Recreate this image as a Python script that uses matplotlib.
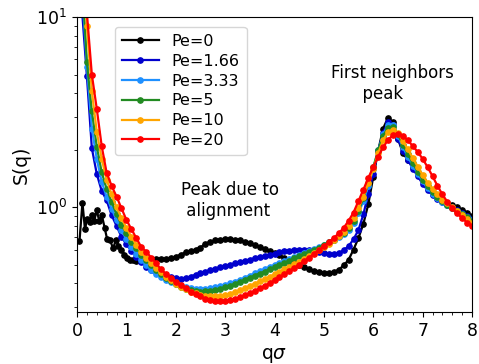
import numpy as np
import matplotlib
matplotlib.use("Agg")
import matplotlib.pyplot as plt
from matplotlib.ticker import MultipleLocator, LogLocator, NullFormatter

# q grid shared by the active curves
q = np.round(np.arange(1, 81) * 0.1, 2)

# Pe=0 has a noisy low-q part read on a finer grid
q_pe0 = [0.05, 0.11, 0.16, 0.21, 0.26, 0.30, 0.35, 0.40, 0.45, 0.50, 0.56,
         0.61, 0.67, 0.73, 0.79, 0.84, 0.90, 0.96, 1.02, 1.07, 1.13] + list(q[11:])
s_pe0 = [0.665, 1.06, 0.77, 0.87, 0.84, 0.91, 0.85, 0.97, 0.845, 0.915, 0.78,
         0.68, 0.67, 0.61, 0.675, 0.63, 0.595, 0.565, 0.545, 0.53, 0.53,
         0.525, 0.53, 0.535, 0.535, 0.535, 0.535, 0.535, 0.54, 0.55,
         0.565, 0.58, 0.59, 0.60, 0.615, 0.645, 0.66, 0.67, 0.675, 0.68,
         0.68, 0.675, 0.67, 0.66, 0.65, 0.635, 0.62, 0.605, 0.59, 0.578,
         0.56, 0.54, 0.525, 0.51, 0.495, 0.485, 0.472, 0.465, 0.458, 0.452,
         0.452, 0.457, 0.47, 0.495, 0.53, 0.60, 0.69, 0.82, 1.04, 1.45,
         1.99, 2.6, 2.97, 2.8, 2.3, 1.93, 1.78, 1.64, 1.5, 1.38,
         1.26, 1.18, 1.13, 1.09, 1.06, 1.03, 1.0, 0.97, 0.94, 0.9]

s_pe166 = [11.0, 4.9, 2.05, 1.5, 1.22, 1.09, 0.91, 0.80, 0.70, 0.64,
           0.59, 0.55, 0.515, 0.487, 0.47, 0.455, 0.446, 0.437, 0.43, 0.423,
           0.418, 0.425, 0.433, 0.442, 0.45, 0.46, 0.468, 0.477, 0.485, 0.493,
           0.50, 0.508, 0.516, 0.524, 0.532, 0.54, 0.548, 0.556, 0.565, 0.572,
           0.58, 0.587, 0.592, 0.597, 0.60, 0.60, 0.598, 0.593, 0.585, 0.574,
           0.568, 0.568, 0.575, 0.595, 0.625, 0.68, 0.76, 0.92, 1.18, 1.5,
           1.98, 2.47, 2.82, 2.72, 2.3, 1.98, 1.78, 1.6, 1.46, 1.33,
           1.23, 1.16, 1.11, 1.07, 1.03, 1.0, 0.97, 0.935, 0.905, 0.87]

s_pe333 = [14.0, 5.5, 2.6, 1.8, 1.36, 1.14, 0.98, 0.86, 0.76, 0.68,
           0.62, 0.57, 0.53, 0.497, 0.47, 0.447, 0.43, 0.415, 0.404, 0.395,
           0.388, 0.381, 0.376, 0.373, 0.372, 0.373, 0.375, 0.379, 0.384, 0.391,
           0.399, 0.407, 0.416, 0.427, 0.438, 0.45, 0.462, 0.474, 0.486, 0.498,
           0.51, 0.522, 0.535, 0.548, 0.56, 0.574, 0.588, 0.603, 0.618, 0.636,
           0.655, 0.675, 0.698, 0.725, 0.765, 0.83, 0.93, 1.08, 1.3, 1.6,
           2.0, 2.42, 2.72, 2.7, 2.38, 2.07, 1.85, 1.66, 1.5, 1.37,
           1.26, 1.18, 1.12, 1.07, 1.03, 0.99, 0.96, 0.925, 0.89, 0.86]

s_pe5 = [16.0, 5.8, 3.2, 2.09, 1.53, 1.25, 1.07, 0.92, 0.81, 0.73,
         0.66, 0.61, 0.565, 0.53, 0.50, 0.47, 0.445, 0.425, 0.408, 0.394,
         0.38, 0.372, 0.366, 0.362, 0.361, 0.362, 0.364, 0.368, 0.373, 0.38,
         0.388, 0.396, 0.406, 0.416, 0.427, 0.438, 0.449, 0.46, 0.472, 0.484,
         0.497, 0.51, 0.524, 0.539, 0.554, 0.568, 0.583, 0.598, 0.615, 0.635,
         0.655, 0.677, 0.705, 0.735, 0.78, 0.85, 0.96, 1.12, 1.34, 1.63,
         2.0, 2.38, 2.63, 2.64, 2.42, 2.14, 1.91, 1.71, 1.54, 1.4,
         1.29, 1.2, 1.13, 1.08, 1.03, 0.99, 0.955, 0.92, 0.885, 0.85]

s_pe10 = [22.0, 9.0, 4.1, 2.5, 1.8, 1.4, 1.17, 1.0, 0.88, 0.78,
          0.70, 0.635, 0.58, 0.54, 0.51, 0.48, 0.455, 0.432, 0.413, 0.397,
          0.383, 0.371, 0.361, 0.353, 0.347, 0.342, 0.34, 0.34, 0.342, 0.346,
          0.352, 0.359, 0.367, 0.376, 0.386, 0.397, 0.408, 0.42, 0.432, 0.444,
          0.458, 0.472, 0.487, 0.503, 0.519, 0.536, 0.554, 0.574, 0.595, 0.618,
          0.643, 0.672, 0.705, 0.745, 0.80, 0.88, 0.99, 1.14, 1.34, 1.6,
          1.93, 2.26, 2.5, 2.56, 2.45, 2.24, 2.02, 1.82, 1.64, 1.48,
          1.35, 1.25, 1.17, 1.1, 1.05, 1.0, 0.955, 0.91, 0.87, 0.83]

s_pe20 = [30.0, 10.5, 5.0, 3.3, 2.1, 1.52, 1.3, 1.14, 0.99, 0.86,
          0.77, 0.69, 0.62, 0.585, 0.545, 0.51, 0.472, 0.447, 0.425, 0.405,
          0.39, 0.375, 0.36, 0.35, 0.34, 0.33, 0.325, 0.322, 0.321, 0.322,
          0.325, 0.33, 0.337, 0.345, 0.354, 0.364, 0.375, 0.387, 0.40, 0.414,
          0.429, 0.445, 0.462, 0.48, 0.50, 0.522, 0.545, 0.57, 0.597, 0.625,
          0.655, 0.69, 0.73, 0.78, 0.85, 0.94, 1.08, 1.24, 1.43, 1.63,
          1.85, 2.07, 2.27, 2.4, 2.44, 2.38, 2.26, 2.1, 1.96, 1.8,
          1.63, 1.46, 1.3, 1.17, 1.07, 0.99, 0.93, 0.88, 0.83, 0.80]

labels = ["Pe=0", "Pe=1.66", "Pe=3.33", "Pe=5", "Pe=10", "Pe=20"]
colors = ["black", "mediumblue", "dodgerblue", "forestgreen", "orange", "red"]

fig = plt.figure(figsize=(4.79, 3.64), dpi=100)
ax = fig.add_axes([0.1608, 0.1415, 0.8246, 0.811])

series = [(q_pe0, s_pe0), (q, s_pe166), (q, s_pe333), (q, s_pe5), (q, s_pe10), (q, s_pe20)]
for (x, y), lab, c in zip(series, labels, colors):
    ax.plot(x, y, "-o", color=c, label=lab, markersize=3.8, linewidth=1.6)

ax.set_yscale("log")
ax.set_xlim(0, 8)
ax.set_ylim(0.28, 10)
ax.xaxis.set_major_locator(MultipleLocator(1))
ax.xaxis.set_minor_locator(MultipleLocator(0.2))
ax.yaxis.set_minor_locator(LogLocator(base=10, subs=np.arange(2, 10)))
ax.yaxis.set_minor_formatter(NullFormatter())
ax.tick_params(labelsize=12.5)

ax.set_xlabel(r"q$\sigma$", fontsize=13.5)
ax.set_ylabel("S(q)", fontsize=13.5)

ax.text(2.1, 1.09, "Peak due to\n alignment", fontsize=12, ha="left", va="center")
ax.text(5.14, 4.5, "First neighbors\n      peak", fontsize=12, ha="left", va="center")

ax.legend(loc="upper left", bbox_to_anchor=(0.075, 0.995), fontsize=11.5,
          labelspacing=0.3, handlelength=2.3, borderpad=0.45)

fig.savefig("out.png", dpi=100)
